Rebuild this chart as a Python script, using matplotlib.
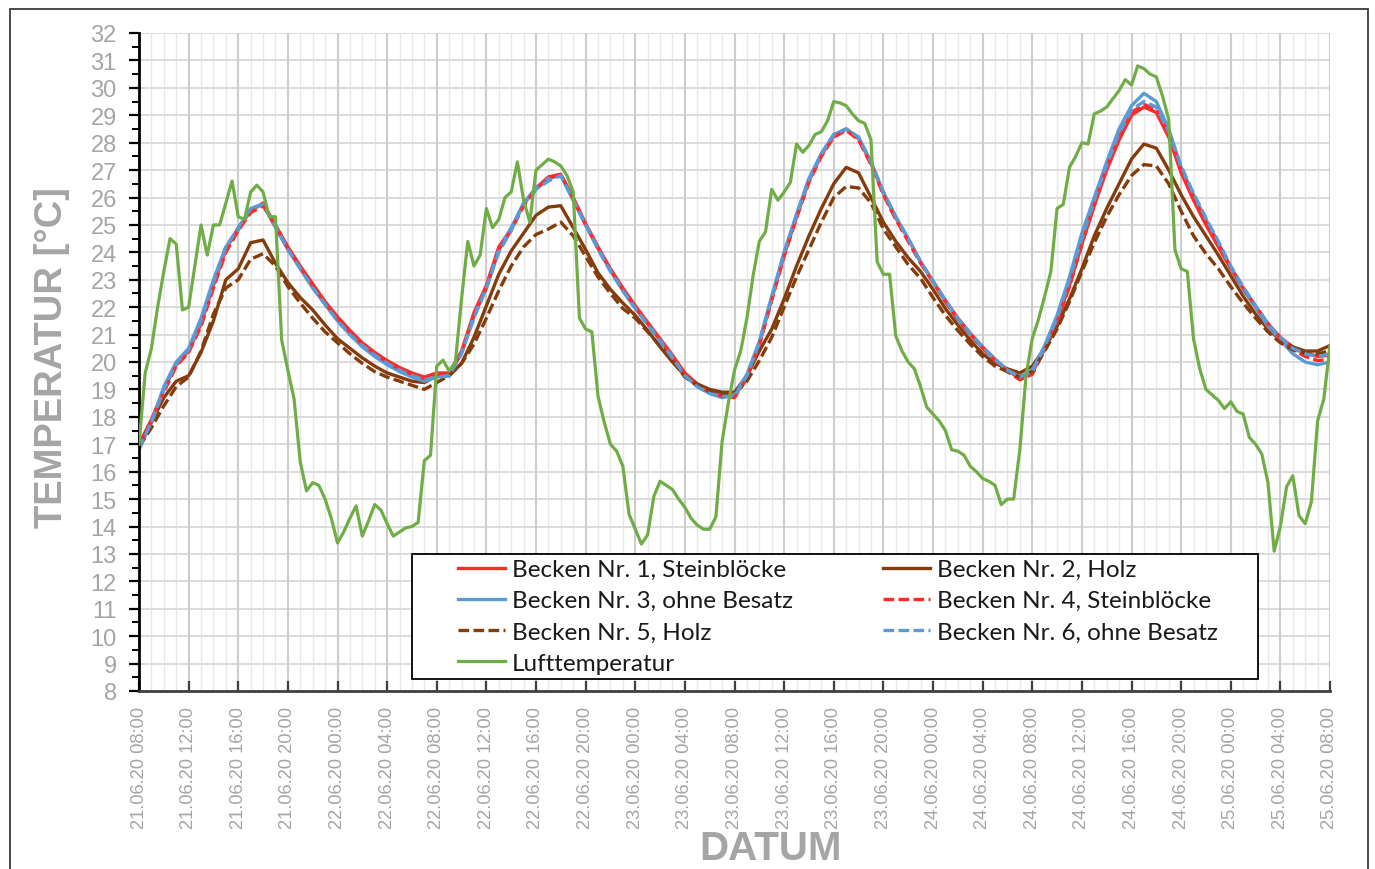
import matplotlib
matplotlib.use("Agg")
import matplotlib.pyplot as plt
from matplotlib.patches import Rectangle
import numpy as np

# ---------------- data (hours since 21.06.20 08:00) ----------------
x_labels = ["21.06.20 08:00", "21.06.20 12:00", "21.06.20 16:00", "21.06.20 20:00",
            "22.06.20 00:00", "22.06.20 04:00", "22.06.20 08:00", "22.06.20 12:00",
            "22.06.20 16:00", "22.06.20 20:00", "23.06.20 00:00", "23.06.20 04:00",
            "23.06.20 08:00", "23.06.20 12:00", "23.06.20 16:00", "23.06.20 20:00",
            "24.06.20 00:00", "24.06.20 04:00", "24.06.20 08:00", "24.06.20 12:00",
            "24.06.20 16:00", "24.06.20 20:00", "25.06.20 00:00", "25.06.20 04:00",
            "25.06.20 08:00"]

hours_water = list(range(0, 97))          # hourly water readings
hours_air = [i * 0.5 for i in range(193)]  # half-hourly air readings

becken1 = [17.0, 17.9, 19.0, 19.9, 20.4, 21.4, 22.8, 24.1, 24.9, 25.5,
           25.8, 25.0, 24.2, 23.5, 22.85, 22.2, 21.65, 21.15, 20.7, 20.35,
           20.05, 19.8, 19.6, 19.45, 19.6, 19.6, 20.4, 21.8, 22.8, 24.2,
           24.85, 25.75, 26.35, 26.75, 26.85, 26.0, 25.05, 24.2, 23.4, 22.7,
           22.05, 21.45, 20.85, 20.25, 19.6, 19.2, 18.95, 18.8, 18.75, 19.45,
           20.65, 22.3, 23.9, 25.3, 26.6, 27.55, 28.25, 28.5, 28.15, 27.25,
           26.15, 25.25, 24.5, 23.65, 22.95, 22.25, 21.6, 21.05, 20.55, 20.1,
           19.7, 19.4, 19.6, 20.5, 21.5, 22.8, 24.3, 25.7, 27.0, 28.1,
           29.0, 29.3, 29.1, 28.2, 26.9, 25.9, 25.0, 24.2, 23.4, 22.65,
           22.0, 21.4, 20.9, 20.55, 20.35, 20.2, 20.25]

becken2 = [16.9, 17.8, 18.7, 19.3, 19.5, 20.35, 21.5, 23.0, 23.4, 24.35,
           24.45, 23.6, 22.9, 22.35, 21.9, 21.35, 20.85, 20.5, 20.15, 19.85,
           19.6, 19.45, 19.3, 19.25, 19.5, 19.5, 19.95, 20.9, 22.05, 23.2,
           24.05, 24.7, 25.35, 25.65, 25.7, 24.9, 24.1, 23.25, 22.65, 22.15,
           21.7, 21.15, 20.55, 20.0, 19.5, 19.2, 19.0, 18.9, 18.9, 19.5,
           20.4, 21.2, 22.3, 23.5, 24.6, 25.6, 26.5, 27.1, 26.9, 26.0,
           25.1, 24.4, 23.8, 23.3, 22.65, 21.95, 21.35, 20.8, 20.3, 19.95,
           19.75, 19.6, 19.85, 20.5, 21.3, 22.3, 23.4, 24.6, 25.6, 26.5,
           27.4, 27.95, 27.8, 27.0, 26.1, 25.3, 24.6, 23.9, 23.15, 22.4,
           21.75, 21.2, 20.8, 20.55, 20.4, 20.4, 20.6]

becken3 = [16.8, 17.8, 19.1, 20.0, 20.5, 21.6, 23.0, 24.2, 24.8, 25.6,
           25.75, 24.9, 24.1, 23.4, 22.7, 22.1, 21.5, 21.0, 20.55, 20.2,
           19.9, 19.65, 19.45, 19.3, 19.45, 19.5, 20.35, 21.7, 22.7, 24.1,
           24.9, 25.8, 26.35, 26.7, 26.8, 25.9, 25.0, 24.15, 23.35, 22.6,
           21.95, 21.4, 20.8, 20.2, 19.5, 19.1, 18.85, 18.7, 18.8, 19.55,
           20.75, 22.4, 24.0, 25.4, 26.7, 27.6, 28.3, 28.5, 28.2, 27.3,
           26.2, 25.3, 24.5, 23.65, 22.95, 22.2, 21.55, 21.0, 20.5, 20.1,
           19.7, 19.45, 19.7, 20.6, 21.7, 23.1, 24.7, 26.0, 27.3, 28.5,
           29.35, 29.8, 29.5, 28.5, 27.1, 26.1, 25.2, 24.35, 23.45, 22.65,
           22.0, 21.3, 20.8, 20.3, 20.0, 19.9, 20.0]

becken4 = [17.0, 17.85, 18.9, 19.85, 20.35, 21.3, 22.7, 24.0, 24.8, 25.45,
           25.7, 24.95, 24.15, 23.45, 22.8, 22.15, 21.6, 21.1, 20.65, 20.3,
           20.0, 19.75, 19.55, 19.4, 19.55, 19.55, 20.35, 21.7, 22.7, 24.1,
           24.8, 25.7, 26.3, 26.7, 26.85, 25.95, 25.0, 24.15, 23.35, 22.65,
           22.0, 21.4, 20.8, 20.2, 19.55, 19.15, 18.9, 18.75, 18.7, 19.4,
           20.6, 22.25, 23.85, 25.25, 26.55, 27.5, 28.2, 28.45, 28.1, 27.2,
           26.1, 25.2, 24.4, 23.6, 22.9, 22.2, 21.55, 21.0, 20.5, 20.05,
           19.65, 19.35, 19.55, 20.45, 21.45, 22.75, 24.3, 25.75, 27.1, 28.2,
           29.1, 29.4, 29.2, 28.3, 27.0, 26.0, 25.1, 24.3, 23.45, 22.7,
           22.05, 21.4, 20.85, 20.45, 20.2, 20.05, 20.1]

becken5 = [16.9, 17.6, 18.4, 19.1, 19.45, 20.4, 21.75, 22.7, 23.0, 23.75,
           23.95, 23.5, 22.75, 22.15, 21.6, 21.1, 20.7, 20.3, 19.95, 19.65,
           19.45, 19.3, 19.15, 19.0, 19.25, 19.5, 19.95, 20.65, 21.6, 22.6,
           23.5, 24.2, 24.65, 24.85, 25.1, 24.6, 23.85, 23.1, 22.5, 21.95,
           21.6, 21.1, 20.6, 20.05, 19.45, 19.15, 18.95, 18.85, 18.85, 19.3,
           20.05, 20.9, 22.0, 23.1, 24.1, 25.1, 26.0, 26.4, 26.35, 25.8,
           24.85, 24.2, 23.55, 23.05, 22.35, 21.7, 21.15, 20.65, 20.2, 19.85,
           19.65, 19.45, 19.65, 20.4, 21.2, 22.2, 23.3, 24.35, 25.3, 26.1,
           26.8, 27.2, 27.15, 26.5, 25.5, 24.6, 23.95, 23.4, 22.75, 22.15,
           21.6, 21.1, 20.7, 20.45, 20.3, 20.3, 20.4]

becken6 = [16.85, 17.8, 19.0, 19.95, 20.45, 21.5, 22.9, 24.2, 24.9, 25.6,
           25.75, 24.95, 24.1, 23.4, 22.7, 22.1, 21.5, 21.0, 20.6, 20.25,
           19.95, 19.7, 19.5, 19.35, 19.45, 19.5, 20.3, 21.6, 22.7, 24.0,
           24.8, 25.8, 26.3, 26.6, 26.8, 25.9, 25.0, 24.1, 23.3, 22.6,
           21.95, 21.35, 20.75, 20.15, 19.5, 19.1, 18.85, 18.75, 18.75, 19.5,
           20.7, 22.35, 24.0, 25.35, 26.65, 27.6, 28.3, 28.5, 28.2, 27.3,
           26.2, 25.3, 24.5, 23.65, 22.95, 22.25, 21.6, 21.05, 20.55, 20.1,
           19.7, 19.45, 19.65, 20.55, 21.6, 23.0, 24.5, 25.9, 27.2, 28.35,
           29.2, 29.5, 29.3, 28.4, 27.15, 26.15, 25.25, 24.4, 23.5, 22.75,
           22.05, 21.4, 20.9, 20.5, 20.3, 20.2, 20.3]

lufttemperatur = [17.0, 19.6, 20.5, 22.0, 23.3, 24.5, 24.3, 21.9, 22.0, 23.5,
                  25.0, 23.9, 25.0, 25.0, 25.8, 26.6, 25.3, 25.2, 26.2, 26.45,
                  26.2, 25.3, 25.3, 20.8, 19.7, 18.65, 16.35, 15.3, 15.6, 15.5,
                  15.0, 14.3, 13.4, 13.8, 14.3, 14.75, 13.65, 14.2, 14.8, 14.6,
                  14.1, 13.65, 13.8, 13.95, 14.0, 14.15, 16.4, 16.6, 19.85, 20.07,
                  19.67, 20.0, 22.3, 24.4, 23.5, 23.9, 25.6, 24.9, 25.2, 26.0,
                  26.2, 27.3, 25.9, 25.1, 27.0, 27.2, 27.4, 27.3, 27.15, 26.8,
                  26.2, 21.6, 21.2, 21.1, 18.75, 17.8, 17.0, 16.75, 16.2, 14.45,
                  13.9, 13.36, 13.7, 15.1, 15.65, 15.5, 15.35, 15.0, 14.7, 14.3,
                  14.05, 13.9, 13.9, 14.35, 17.1, 18.5, 19.7, 20.4, 21.6, 23.15,
                  24.4, 24.75, 26.3, 25.9, 26.2, 26.55, 27.95, 27.65, 27.9, 28.3,
                  28.4, 28.8, 29.5, 29.45, 29.35, 29.05, 28.8, 28.7, 28.1, 23.65,
                  23.2, 23.2, 20.95, 20.4, 20.0, 19.75, 19.1, 18.35, 18.1, 17.85,
                  17.5, 16.8, 16.75, 16.6, 16.2, 16.0, 15.75, 15.65, 15.5, 14.8,
                  15.0, 15.0, 16.8, 19.5, 20.85, 21.55, 22.4, 23.3, 25.6, 25.75,
                  27.1, 27.5, 28.0, 27.95, 29.05, 29.15, 29.3, 29.6, 29.9, 30.3,
                  30.1, 30.8, 30.7, 30.5, 30.4, 29.7, 28.85, 24.1, 23.4, 23.3,
                  20.85, 19.75, 19.0, 18.8, 18.6, 18.3, 18.55, 18.2, 18.1, 17.25,
                  17.0, 16.65, 15.6, 13.1, 14.0, 15.45, 15.85, 14.4, 14.1, 14.9,
                  17.85, 18.65, 20.6]

series_names = ["Becken Nr. 1, Steinblöcke", "Becken Nr. 2, Holz",
                "Becken Nr. 3, ohne Besatz", "Becken Nr. 4, Steinblöcke",
                "Becken Nr. 5, Holz", "Becken Nr. 6, ohne Besatz",
                "Lufttemperatur"]

# ---------------- styling ----------------
RED = "#FF2B2B"
BROWN = "#843C0C"
BLUE = "#5B9BD5"
GREEN = "#70AD47"
GRAY_TXT = "#A5A5A5"
DASH = (0, (3.2, 1.3))
W, H = 1375, 870

fig = plt.figure(figsize=(13.75, 8.7), dpi=100)
ax = fig.add_axes([139 / W, 1 - 692 / H, (1330 - 139) / W, (692 - 34) / H])

# grid
for h in range(0, 97):
    if h % 4:
        ax.axvline(h, color="#E8E8E8", lw=1.0, zorder=0)
for h in range(0, 97, 4):
    ax.axvline(h, color="#CDCDCD", lw=1.5, zorder=0.5)
for v in range(8, 33):
    ax.axhline(v, color="#D9D9D9", lw=1.3, zorder=0.4)

lw = 2.4
l1, = ax.plot(hours_water, becken1, color=RED, lw=lw, label=series_names[0], zorder=2)
l2, = ax.plot(hours_water, becken2, color=BROWN, lw=lw, label=series_names[1], zorder=2)
l3, = ax.plot(hours_water, becken3, color=BLUE, lw=lw, label=series_names[2], zorder=2)
l4, = ax.plot(hours_water, becken4, color=RED, lw=lw, ls=DASH, label=series_names[3], zorder=2)
l5, = ax.plot(hours_water, becken5, color=BROWN, lw=lw, ls=DASH, label=series_names[4], zorder=2)
l6, = ax.plot(hours_water, becken6, color=BLUE, lw=lw, ls=DASH, label=series_names[5], zorder=2)
l7, = ax.plot(hours_air, lufttemperatur, color=GREEN, lw=2.3, label=series_names[6], zorder=3)

ax.set_xlim(0, 96)
ax.set_ylim(8, 32)

ax.set_yticks(range(8, 33))
ax.set_yticks(np.arange(8.5, 32, 1.0), minor=True)
ax.set_xticks(range(0, 97, 4))
ax.set_xticklabels(x_labels, rotation=90, family="Liberation Sans", fontsize=13.2, color=GRAY_TXT)
for t in ax.get_yticklabels():
    t.set_fontfamily("Liberation Sans")
    t.set_fontsize(17)
    t.set_color(GRAY_TXT)

ax.tick_params(axis="y", which="major", direction="out", length=7, width=1.6, color="black", pad=9)
ax.tick_params(axis="y", which="minor", direction="out", length=5, width=1.4, color="black")
ax.tick_params(axis="x", which="major", direction="in", length=7, width=1.6, color="#404040", pad=11)

for s in ["top", "right"]:
    ax.spines[s].set_visible(False)
ax.spines["left"].set_linewidth(2.0)
ax.spines["left"].set_color("black")
ax.spines["bottom"].set_linewidth(2.0)
ax.spines["bottom"].set_color("#404040")

# axis titles
fig.text(52 / W, 1 - 358 / H, "TEMPERATUR [°C]", rotation=90, ha="center", va="center",
         family="Liberation Sans", fontweight="bold", fontsize=27.5, color=GRAY_TXT)
fig.text(770 / W, 1 - 849 / H, "DATUM", ha="center", va="center",
         family="Liberation Sans", fontweight="bold", fontsize=29, color=GRAY_TXT)

# legend box (white, black frame)
ax.add_patch(Rectangle((412 / W, 1 - 680 / H), (1258 - 412) / W, (680 - 555) / H,
                       transform=fig.transFigure, facecolor="white", edgecolor="black",
                       lw=1.3, zorder=4, clip_on=False))

# legend entries (row-major order like the original)
fs = 17.5
fs_px = fs * 100 / 72
handles = [l1, l3, l5, l7, l2, l4, l6]
leg = ax.legend(handles=handles, labels=[h.get_label() for h in handles], ncol=2,
                loc="upper left", bbox_to_anchor=(458 / W, 1 - 560 / H),
                bbox_transform=fig.transFigure, frameon=False,
                borderpad=0, labelspacing=0.42, borderaxespad=0,
                handlelength=47 / fs_px, handletextpad=7 / fs_px,
                columnspacing=90 / fs_px,
                prop={"family": "Lato", "size": fs})
leg.set_zorder(5)
for t in leg.get_texts():
    t.set_color("#1A1A1A")

# outer chart border
fig.patches.append(Rectangle((10 / W, -0.02), (1368 - 10) / W, 1 - 10 / H + 0.02,
                             transform=fig.transFigure, fill=False, edgecolor="#3A3A3A",
                             lw=1.3, clip_on=False))

fig.savefig("out.png", dpi=100)
